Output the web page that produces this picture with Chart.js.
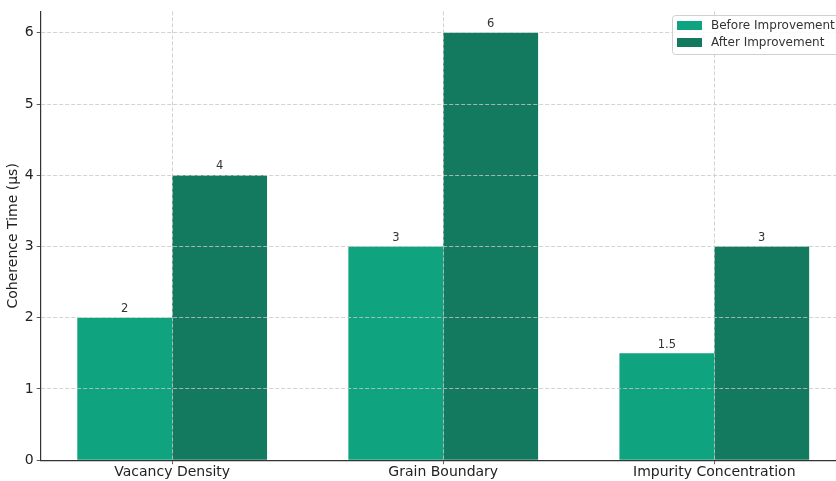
<!DOCTYPE html>
<html>
<head>
<meta charset="utf-8">
<script src="https://cdn.jsdelivr.net/npm/chart.js@4/dist/chart.umd.min.js"></script>
<style>
  html, body { margin: 0; padding: 0; background: #fff; }
  #wrap { width: 836px; height: 481px; }
</style>
</head>
<body>
<div id="wrap"><canvas id="coherenceChart"></canvas></div>
<script>
// Data for the chart
const categories = ['Vacancy Density', 'Grain Boundary', 'Impurity Concentration'];
const beforeValues = [2, 3, 1.5];
const afterValues = [4, 6, 3];
const seriesLabels = ['Before Improvement', 'After Improvement'];
const yTicks = [0, 1, 2, 3, 4, 5, 6];

const FONT = "'DejaVu Sans', sans-serif";
const colors = ['#10a37f', '#147a5f'];

// value labels above each bar
const barLabels = {
    id: 'barLabels',
    afterDatasetsDraw(chart) {
        const ctx = chart.ctx;
        ctx.save();
        ctx.font = '11.5px ' + FONT;
        ctx.fillStyle = '#333';
        ctx.textAlign = 'center';
        ctx.textBaseline = 'bottom';
        chart.data.datasets.forEach((ds, di) => {
            chart.getDatasetMeta(di).data.forEach((bar, i) => {
                ctx.fillText(String(ds.data[i].y), bar.x, bar.y - 3);
            });
        });
        ctx.restore();
    }
};

// legend box inside the plot, top right
const boxLegend = {
    id: 'boxLegend',
    afterDraw(chart) {
        const ctx = chart.ctx;
        const x0 = 672, y0 = 15;
        ctx.save();
        ctx.fillStyle = 'rgba(255,255,255,0.85)';
        ctx.strokeStyle = '#d0d0d0';
        ctx.lineWidth = 1;
        ctx.beginPath();
        ctx.roundRect(x0 + 0.5, y0 + 0.5, 190, 39, 3);
        ctx.fill();
        ctx.stroke();
        ctx.font = '12px ' + FONT;
        ctx.textBaseline = 'middle';
        chart.data.datasets.forEach((ds, i) => {
            const y = y0 + 6 + i * 17;
            ctx.fillStyle = ds.backgroundColor;
            ctx.fillRect(x0 + 5, y, 25, 9);
            ctx.fillStyle = '#333';
            ctx.fillText(ds.label, x0 + 39, y + 5);
        });
        ctx.restore();
    }
};

const ctx1 = document.getElementById('coherenceChart').getContext('2d');
new Chart(ctx1, {
    type: 'bar',
    data: {
        datasets: [
            {
                label: seriesLabels[0],
                data: beforeValues.map((v, i) => ({ x: i, y: v })),
                backgroundColor: colors[0],
                categoryPercentage: 0.7,
                barPercentage: 1.0
            },
            {
                label: seriesLabels[1],
                data: afterValues.map((v, i) => ({ x: i, y: v })),
                backgroundColor: colors[1],
                categoryPercentage: 0.7,
                barPercentage: 1.0
            }
        ]
    },
    options: {
        responsive: true,
        maintainAspectRatio: false,
        animation: false,
        layout: { padding: { top: 10, right: 0, bottom: 0, left: 5 } },
        plugins: {
            legend: { display: false },
            tooltip: { enabled: false }
        },
        scales: {
            x: {
                type: 'linear',
                offset: false,
                min: -0.485,
                max: 2.449,
                afterBuildTicks: (scale) => {
                    scale.ticks = categories.map((c, i) => ({ value: i }));
                },
                ticks: {
                    callback: (value) => categories[value],
                    color: '#222',
                    font: { family: FONT, size: 14 },
                    padding: 0,
                    maxRotation: 0,
                    autoSkip: false
                },
                grid: {
                    offset: false,
                    color: '#c8c8c8',
                    lineWidth: 0.8,
                    tickColor: '#333',
                    tickLength: 4,
                    z: 1
                },
                border: { color: '#333', width: 1.2, dash: [4, 2], z: 2 }
            },
            y: {
                min: 0,
                max: 6.3,
                afterBuildTicks: (scale) => {
                    scale.ticks = yTicks.map(v => ({ value: v }));
                },
                ticks: {
                    color: '#222',
                    font: { family: FONT, size: 14 },
                    padding: 3
                },
                grid: {
                    color: '#c8c8c8',
                    lineWidth: 0.8,
                    tickColor: '#333',
                    tickLength: 4,
                    z: 1
                },
                border: { color: '#333', width: 1.2, dash: [4, 2], z: 2 },
                title: {
                    display: true,
                    text: 'Coherence Time (μs)',
                    color: '#222',
                    font: { family: FONT, size: 14 },
                    padding: { top: 0, bottom: 0 }
                }
            }
        }
    },
    plugins: [barLabels, boxLegend]
});
</script>
</body>
</html>
